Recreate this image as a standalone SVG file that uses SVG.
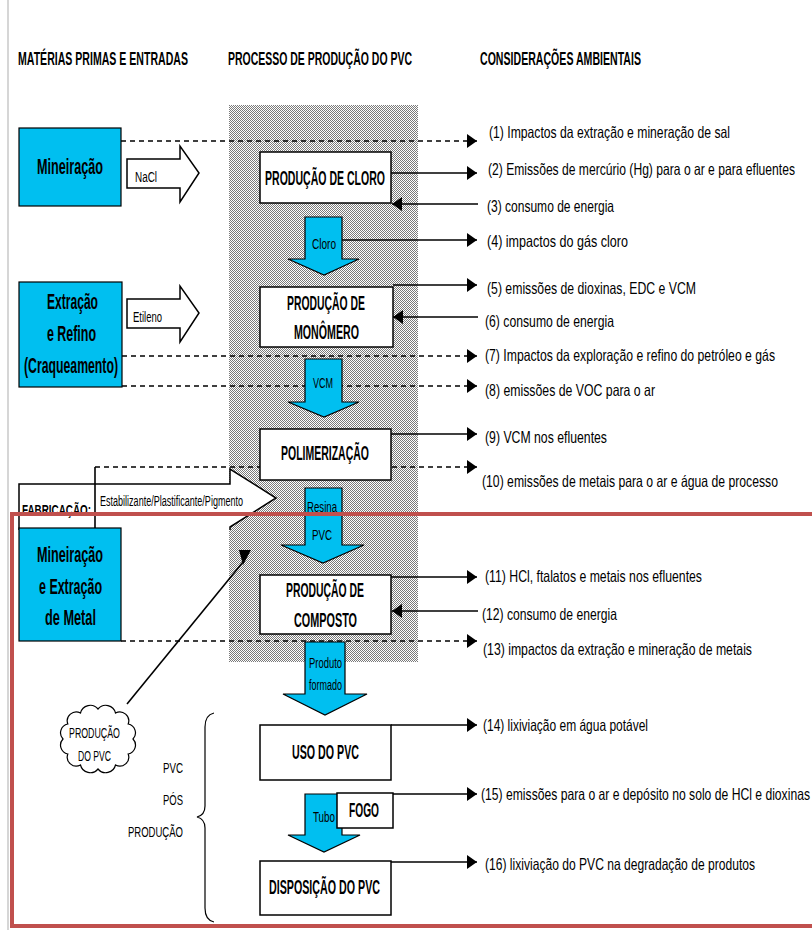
<svg xmlns="http://www.w3.org/2000/svg" width="812" height="930" viewBox="0 0 812 930">
<defs>
<pattern id="dots" x="0" y="0" width="2" height="2" patternUnits="userSpaceOnUse">
<rect width="2" height="2" fill="#ffffff"/>
<rect x="0" y="0" width="1" height="1" fill="#7a7a7a"/>
<rect x="1" y="1" width="1" height="1" fill="#7a7a7a"/>
</pattern>
<marker id="ah" markerUnits="userSpaceOnUse" markerWidth="11" markerHeight="14" refX="10" refY="7" orient="auto">
<path d="M0,0 L10,7 L0,14 z" fill="#000"/>
</marker>
<style>
text{font-family:"Liberation Sans",Arial,sans-serif;fill:#000}
.hd{font-size:10.5px;font-weight:bold}
.bx{font-size:10.6px;font-weight:bold}
.bl{font-size:12.4px;font-weight:bold}
.rt{font-size:12px}
.sm{font-size:9.6px}
.cl{font-size:9px}
.blue{fill:#00BFF0;stroke:#000;stroke-width:1.2}
.wbox{fill:#fff;stroke:#000;stroke-width:1.5}
.ln{stroke:#000;stroke-width:1.6;fill:none}
.dl{stroke:#000;stroke-width:1.6;fill:none;stroke-dasharray:5 4}
</style>
</defs>
<rect width="812" height="930" fill="#fff"/>
<line x1="8" y1="0" x2="8" y2="930" stroke="#c8c8c8" stroke-width="1.5"/>

<g id="headers">
<text class="hd" x="18" y="65" transform="matrix(1 0 0 1.73 0 -47.45)" textLength="170" lengthAdjust="spacingAndGlyphs">MATÉRIAS PRIMAS E ENTRADAS</text>
<text class="hd" x="228" y="65" transform="matrix(1 0 0 1.73 0 -47.45)" textLength="184" lengthAdjust="spacingAndGlyphs">PROCESSO DE PRODUÇÃO DO PVC</text>
<text class="hd" x="480" y="65" transform="matrix(1 0 0 1.73 0 -47.45)" textLength="161" lengthAdjust="spacingAndGlyphs">CONSIDERAÇÕES AMBIENTAIS</text>
</g>

<rect id="process-area" x="229" y="105" width="189" height="557" fill="url(#dots)"/>

<g id="fabricacao">
<path class="wbox" stroke-width="1.2" d="M19,530 V484 H230 V469 L276,498 L230,527 V530"/>
<text style="font-size:8.8px" x="100" y="506" transform="matrix(1 0 0 1.59 0 -298.54)" textLength="143" lengthAdjust="spacingAndGlyphs">Estabilizante/Plastificante/Pigmento</text>
<text style="font-size:9.8px;font-weight:bold" x="22" y="515" transform="matrix(1 0 0 1.57 0 -293.55)" textLength="69" lengthAdjust="spacingAndGlyphs">FABRICAÇÃO:</text>
</g>

<g id="connectors">
<line class="dl" x1="121" y1="141" x2="477" y2="141" marker-end="url(#ah)"/>
<line class="ln" x1="391" y1="173" x2="477" y2="173" marker-end="url(#ah)"/>
<line class="ln" x1="478" y1="204" x2="392" y2="204" marker-end="url(#ah)"/>
<line class="ln" x1="342" y1="240" x2="477" y2="240" marker-end="url(#ah)"/>
<line class="ln" x1="393" y1="285" x2="477" y2="285" marker-end="url(#ah)"/>
<line class="ln" x1="478" y1="317" x2="393" y2="317" marker-end="url(#ah)"/>
<line class="dl" x1="122" y1="356" x2="477" y2="356" marker-end="url(#ah)"/>
<line class="dl" x1="122" y1="386" x2="477" y2="386" marker-end="url(#ah)"/>
<line class="ln" x1="391" y1="434" x2="477" y2="434" marker-end="url(#ah)"/>
<line class="dl" x1="95" y1="467" x2="477" y2="467" marker-end="url(#ah)"/>
<line class="ln" x1="95" y1="467" x2="95" y2="528" stroke-width="1.2"/>
<line class="ln" x1="391" y1="577" x2="477" y2="577" marker-end="url(#ah)"/>
<line class="ln" x1="478" y1="611" x2="392" y2="611" marker-end="url(#ah)"/>
<line class="dl" x1="121" y1="641" x2="477" y2="641" marker-end="url(#ah)"/>
<line class="ln" x1="391" y1="725" x2="477" y2="725" marker-end="url(#ah)"/>
<line class="ln" x1="393" y1="794" x2="477" y2="794" marker-end="url(#ah)"/>
<line class="ln" x1="391" y1="862" x2="477" y2="862" marker-end="url(#ah)"/>
<line class="ln" x1="127" y1="704" x2="243" y2="562" stroke-width="1.2"/>
<polygon points="239,550 251,550 243,565" fill="#000"/>
</g>

<g id="mineracao">
<rect class="blue" x="19" y="128" width="102" height="78"/>
<text class="bl" x="37" y="174" transform="matrix(1 0 0 1.75 0 -130.5)" textLength="66" lengthAdjust="spacingAndGlyphs">Mineiração</text>
</g>
<g id="nacl">
<path class="wbox" stroke-width="1.2" d="M127,159 H180 V146 L199,173 L180,202 V188 H127 Z"/>
<text class="sm" x="135" y="182" transform="matrix(1 0 0 1.53 0 -96.46)" textLength="22" lengthAdjust="spacingAndGlyphs">NaCl</text>
</g>
<g id="extracao">
<rect class="blue" x="19" y="282" width="103" height="105"/>
<text class="bl" x="47" y="309" transform="matrix(1 0 0 1.75 0 -231.75)" textLength="51" lengthAdjust="spacingAndGlyphs">Extração</text>
<text class="bl" x="47" y="341" transform="matrix(1 0 0 1.75 0 -255.75)" textLength="49" lengthAdjust="spacingAndGlyphs">e Refino</text>
<text class="bl" x="24" y="373" transform="matrix(1 0 0 1.75 0 -279.75)" textLength="94" lengthAdjust="spacingAndGlyphs">(Craqueamento)</text>
</g>
<g id="etileno">
<path class="wbox" stroke-width="1.2" d="M127,299 H180 V286 L199,313 L180,342 V328 H127 Z"/>
<text class="sm" x="133" y="322" transform="matrix(1 0 0 1.53 0 -170.66)" textLength="29" lengthAdjust="spacingAndGlyphs">Etileno</text>
</g>
<g id="metal">
<rect class="blue" x="19" y="528" width="102" height="113"/>
<text class="bl" x="37" y="562" transform="matrix(1 0 0 1.75 0 -421.5)" textLength="66" lengthAdjust="spacingAndGlyphs">Mineiração</text>
<text class="bl" x="39" y="594" transform="matrix(1 0 0 1.75 0 -445.5)" textLength="63" lengthAdjust="spacingAndGlyphs">e Extração</text>
<text class="bl" x="45" y="625" transform="matrix(1 0 0 1.75 0 -468.75)" textLength="51" lengthAdjust="spacingAndGlyphs">de Metal</text>
</g>

<g id="cloro-box">
<rect class="wbox" x="260" y="152" width="131" height="51"/>
<text class="bx" x="265" y="185" transform="matrix(1 0 0 1.88 0 -162.8)" textLength="120" lengthAdjust="spacingAndGlyphs">PRODUÇÃO DE CLORO</text>
</g>
<g id="cloro-arrow">
<path class="blue" d="M305,217 H342 V259 H359 L324,275 L288,259 H305 Z"/>
<text class="sm" x="312" y="249" transform="matrix(1 0 0 1.53 0 -131.97)" textLength="24" lengthAdjust="spacingAndGlyphs">Cloro</text>
</g>
<g id="monomero-box">
<rect class="wbox" x="260" y="287" width="133" height="60"/>
<text class="bx" x="287" y="310" transform="matrix(1 0 0 1.88 0 -272.8)" textLength="78" lengthAdjust="spacingAndGlyphs">PRODUÇÃO DE</text>
<text class="bx" x="294" y="339" transform="matrix(1 0 0 1.88 0 -298.32)" textLength="65" lengthAdjust="spacingAndGlyphs">MONÔMERO</text>
</g>
<g id="vcm-arrow">
<path class="blue" d="M305,359 H342 V402 H359 L324,417 L288,402 H305 Z"/>
<text class="sm" x="313" y="388" transform="matrix(1 0 0 1.53 0 -205.64)" textLength="20" lengthAdjust="spacingAndGlyphs">VCM</text>
</g>
<g id="polimerizacao-box">
<rect class="wbox" x="260" y="429" width="131" height="51"/>
<text class="bx" x="281" y="460" transform="matrix(1 0 0 1.88 0 -404.8)" textLength="88" lengthAdjust="spacingAndGlyphs">POLIMERIZAÇÃO</text>
</g>
<g id="resina-arrow">
<path class="blue" d="M305,488 H342 V545 H364 L323,563 L281,545 H305 Z"/>
<text class="sm" x="307" y="512" transform="matrix(1 0 0 1.53 0 -271.36)" textLength="30" lengthAdjust="spacingAndGlyphs">Resina</text>
<text class="sm" x="312" y="540" transform="matrix(1 0 0 1.53 0 -286.2)" textLength="20" lengthAdjust="spacingAndGlyphs">PVC</text>
</g>
<g id="composto-box">
<rect class="wbox" x="260" y="575" width="131" height="59"/>
<text class="bx" x="286" y="597" transform="matrix(1 0 0 1.88 0 -525.36)" textLength="78" lengthAdjust="spacingAndGlyphs">PRODUÇÃO DE</text>
<text class="bx" x="294" y="627" transform="matrix(1 0 0 1.88 0 -551.76)" textLength="63" lengthAdjust="spacingAndGlyphs">COMPOSTO</text>
</g>
<g id="produto-arrow">
<path class="blue" d="M305,642 H345 V694 H367 L325,715 L283,694 H305 Z"/>
<text class="sm" x="309" y="668" transform="matrix(1 0 0 1.53 0 -354.04)" textLength="33" lengthAdjust="spacingAndGlyphs">Produto</text>
<text class="sm" x="309" y="690" transform="matrix(1 0 0 1.53 0 -365.7)" textLength="33" lengthAdjust="spacingAndGlyphs">formado</text>
</g>
<g id="uso-box">
<rect class="wbox" x="260" y="725" width="131" height="55"/>
<text class="bx" x="292" y="759" transform="matrix(1 0 0 1.88 0 -667.92)" textLength="67" lengthAdjust="spacingAndGlyphs">USO DO PVC</text>
</g>
<g id="tubo-arrow">
<path class="blue" d="M305,794 H342 V835 H360 L324,852 L288,835 H305 Z"/>
<text class="sm" x="313" y="822" transform="matrix(1 0 0 1.53 0 -435.66)" textLength="22" lengthAdjust="spacingAndGlyphs">Tubo</text>
</g>
<g id="fogo-box">
<rect class="wbox" x="337" y="793" width="56" height="35"/>
<text class="bx" x="349" y="817" transform="matrix(1 0 0 1.88 0 -718.96)" textLength="30" lengthAdjust="spacingAndGlyphs">FOGO</text>
</g>
<g id="disposicao-box">
<rect class="wbox" x="260" y="861" width="131" height="54"/>
<text class="bx" x="269" y="894" transform="matrix(1 0 0 1.88 0 -786.72)" textLength="111" lengthAdjust="spacingAndGlyphs">DISPOSIÇÃO DO PVC</text>
</g>

<g id="cloud">
<path fill="#fff" stroke="#000" stroke-width="1.2" d="M133,739 A9,9 0 0 1 128.2,754 A9,9 0 0 1 115.5,765 A10,10 0 0 1 98,769 A10,10 0 0 1 80.5,765 A9,9 0 0 1 67.8,754 A9,9 0 0 1 63,739 A9,9 0 0 1 67.8,724 A9,9 0 0 1 80.5,713 A10,10 0 0 1 98,709 A10,10 0 0 1 115.5,713 A9,9 0 0 1 128.2,724 A9,9 0 0 1 133,739 Z"/>
<text class="cl" x="69" y="738" transform="matrix(1 0 0 1.55 0 -405.9)" textLength="51" lengthAdjust="spacingAndGlyphs">PRODUÇÃO</text>
<text class="cl" x="78" y="761" transform="matrix(1 0 0 1.55 0 -418.55)" textLength="33" lengthAdjust="spacingAndGlyphs">DO PVC</text>
</g>

<g id="pos-producao">
<path fill="none" stroke="#000" stroke-width="1.2" d="M214,713 Q205,715 205,727 V806 Q205,815 197,817 Q205,819 205,828 V908 Q205,920 214,922"/>
<text class="cl" x="163" y="773" transform="matrix(1 0 0 1.55 0 -425.15)" textLength="20" lengthAdjust="spacingAndGlyphs">PVC</text>
<text class="cl" x="163" y="805" transform="matrix(1 0 0 1.55 0 -442.75)" textLength="20" lengthAdjust="spacingAndGlyphs">PÓS</text>
<text class="cl" x="128" y="837" transform="matrix(1 0 0 1.55 0 -460.35)" textLength="55" lengthAdjust="spacingAndGlyphs">PRODUÇÃO</text>
</g>

<g id="consideracoes">
<text class="rt" x="489" y="138" transform="matrix(1 0 0 1.34 0 -46.92)" textLength="241" lengthAdjust="spacingAndGlyphs">(1) Impactos da extração e mineração de sal</text>
<text class="rt" x="488" y="175" transform="matrix(1 0 0 1.34 0 -59.5)" textLength="307" lengthAdjust="spacingAndGlyphs">(2) Emissões de mercúrio (Hg) para o ar e para efluentes</text>
<text class="rt" x="487" y="212" transform="matrix(1 0 0 1.34 0 -72.08)" textLength="127" lengthAdjust="spacingAndGlyphs">(3) consumo de energia</text>
<text class="rt" x="487" y="247" transform="matrix(1 0 0 1.34 0 -83.98)" textLength="141" lengthAdjust="spacingAndGlyphs">(4) impactos do gás cloro</text>
<text class="rt" x="487" y="294" transform="matrix(1 0 0 1.34 0 -99.96)" textLength="209" lengthAdjust="spacingAndGlyphs">(5) emissões de dioxinas, EDC e VCM</text>
<text class="rt" x="485" y="327" transform="matrix(1 0 0 1.34 0 -111.18)" textLength="129" lengthAdjust="spacingAndGlyphs">(6) consumo de energia</text>
<text class="rt" x="485" y="361" transform="matrix(1 0 0 1.34 0 -122.74)" textLength="290" lengthAdjust="spacingAndGlyphs">(7) Impactos da exploração e refino do petróleo e gás</text>
<text class="rt" x="485" y="396" transform="matrix(1 0 0 1.34 0 -134.64)" textLength="170" lengthAdjust="spacingAndGlyphs">(8) emissões de VOC para o ar</text>
<text class="rt" x="485" y="443" transform="matrix(1 0 0 1.34 0 -150.62)" textLength="122" lengthAdjust="spacingAndGlyphs">(9) VCM nos efluentes</text>
<text class="rt" x="482" y="487" transform="matrix(1 0 0 1.34 0 -165.58)" textLength="296" lengthAdjust="spacingAndGlyphs">(10) emissões de metais para o ar e água de processo</text>
<text class="rt" x="485" y="582" transform="matrix(1 0 0 1.34 0 -197.88)" textLength="217" lengthAdjust="spacingAndGlyphs">(11) HCl, ftalatos e metais nos efluentes</text>
<text class="rt" x="482" y="620" transform="matrix(1 0 0 1.34 0 -210.8)" textLength="135" lengthAdjust="spacingAndGlyphs">(12) consumo de energia</text>
<text class="rt" x="483" y="655" transform="matrix(1 0 0 1.34 0 -222.7)" textLength="269" lengthAdjust="spacingAndGlyphs">(13) impactos da extração e mineração de metais</text>
<text class="rt" x="483" y="731" transform="matrix(1 0 0 1.34 0 -248.54)" textLength="165" lengthAdjust="spacingAndGlyphs">(14) lixiviação em água potável</text>
<text class="rt" x="481" y="800" transform="matrix(1 0 0 1.34 0 -272)" textLength="329" lengthAdjust="spacingAndGlyphs">(15) emissões para o ar e depósito no solo de HCl e dioxinas</text>
<text class="rt" x="485" y="870" transform="matrix(1 0 0 1.34 0 -295.8)" textLength="270" lengthAdjust="spacingAndGlyphs">(16) lixiviação do PVC na degradação de produtos</text>
</g>

<rect id="highlight" x="12" y="514" width="806" height="412" fill="none" stroke="#C0504D" stroke-width="4"/>
</svg>
